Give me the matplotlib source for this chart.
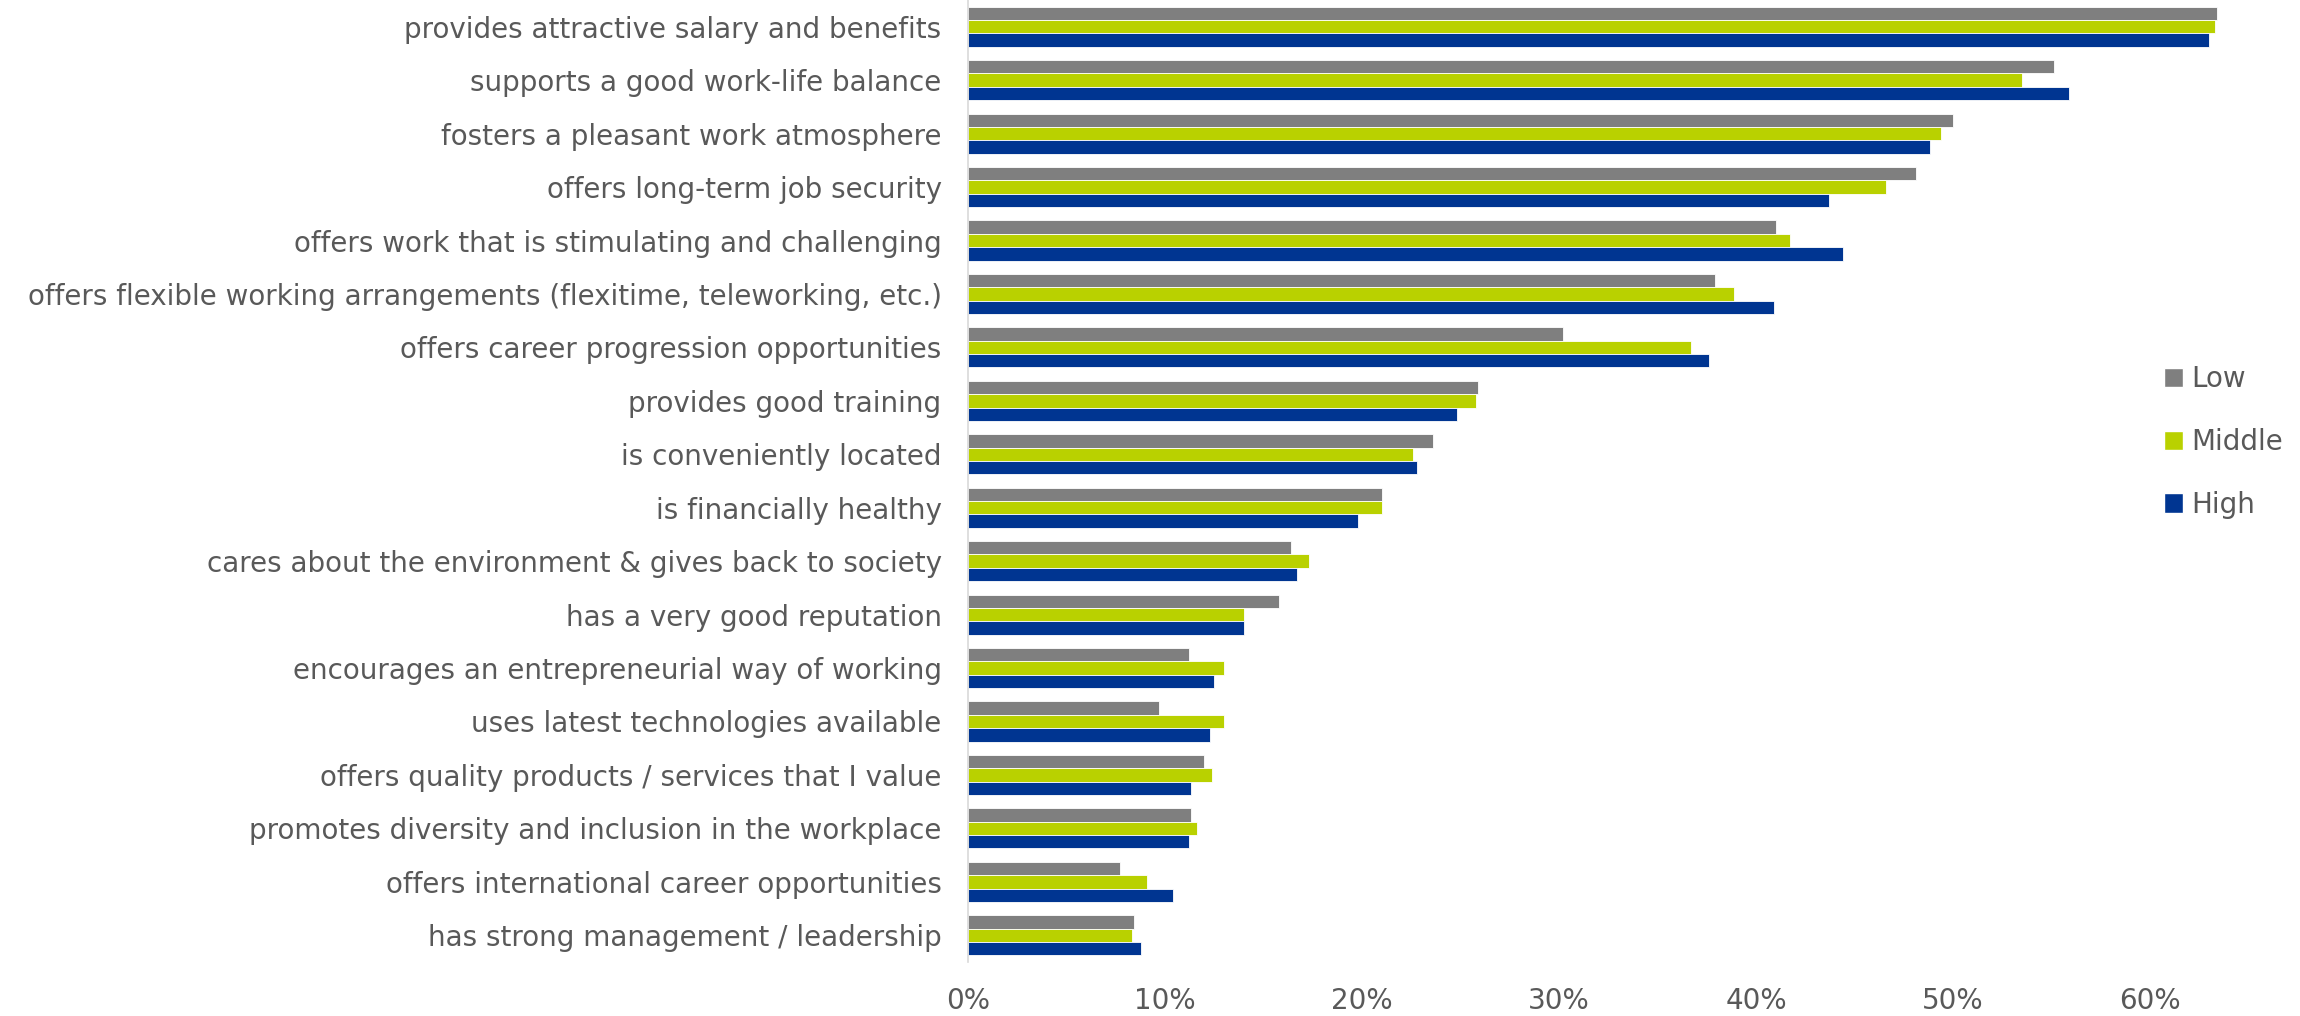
import numpy as np
import matplotlib
matplotlib.use("Agg")
import matplotlib.pyplot as plt
from matplotlib.patches import Patch

plt.rcParams['font.family'] = ['DejaVu Sans']

# attributes, top to bottom
categories = [
    "provides attractive salary and benefits",
    "supports a good work-life balance",
    "fosters a pleasant work atmosphere",
    "offers long-term job security",
    "offers work that is stimulating and challenging",
    "offers flexible working arrangements (flexitime, teleworking, etc.)",
    "offers career progression opportunities",
    "provides good training",
    "is conveniently located",
    "is financially healthy",
    "cares about the environment & gives back to society",
    "has a very good reputation",
    "encourages an entrepreneurial way of working",
    "uses latest technologies available",
    "offers quality products / services that I value",
    "promotes diversity and inclusion in the workplace",
    "offers international career opportunities",
    "has strong management / leadership",
]

# share of respondents (%)
low = [63.4, 55.1, 50.0, 48.1, 41.0, 37.9, 30.2, 25.9, 23.6, 21.0,
       16.4, 15.8, 11.2, 9.7, 12.0, 11.3, 7.7, 8.4]
middle = [63.3, 53.5, 49.4, 46.6, 41.7, 38.9, 36.7, 25.8, 22.6, 21.0,
          17.3, 14.0, 13.0, 13.0, 12.4, 11.6, 9.1, 8.3]
high = [63.0, 55.9, 48.8, 43.7, 44.4, 40.9, 37.6, 24.8, 22.8, 19.8,
        16.7, 14.0, 12.5, 12.3, 11.3, 11.2, 10.4, 8.8]

series = ["Low", "Middle", "High"]
colors = ["#7F7F7F", "#B9D100", "#003591"]
text_col = "#595959"

fig = plt.figure(figsize=(23, 10.16), dpi=100)
ax = fig.add_axes([968 / 2300, 54 / 1016, 1261 / 2300, 962 / 1016])

y = np.arange(len(categories))
h = 0.25
for k, (vals, c) in enumerate(zip([low, middle, high], colors)):
    ax.barh(y + (k - 1) * h, np.array(vals) / 100, height=h, color=c,
            edgecolor="white", linewidth=0.6)

ax.set_ylim(len(categories) - 0.5, -0.5)
ax.set_xlim(0, 0.64)
ax.set_yticks(y)
ax.set_yticklabels(categories, fontsize=20, color=text_col)
ax.set_xticks(np.arange(0, 0.61, 0.1))
ax.set_xticklabels([f"{int(round(t * 100))}%" for t in np.arange(0, 0.61, 0.1)],
                   fontsize=20, color=text_col)
ax.tick_params(axis="y", length=0, pad=19)
ax.tick_params(axis="x", length=0, pad=18)

for s in ["top", "right", "bottom"]:
    ax.spines[s].set_visible(False)
ax.spines["left"].set_color("#D9D9D9")
ax.spines["left"].set_linewidth(1.2)

handles = [Patch(facecolor=c, edgecolor="white", label=s) for s, c in zip(series, colors)]
fig.legend(handles=handles, loc="center left", bbox_to_anchor=(2150 / 2300, 1 - 442 / 1016),
           frameon=False, fontsize=20, labelcolor=text_col, handlelength=0.7,
           handleheight=0.7, handletextpad=0.3, labelspacing=1.25, borderpad=0)

fig.savefig("out.png", dpi=100, facecolor="white")
